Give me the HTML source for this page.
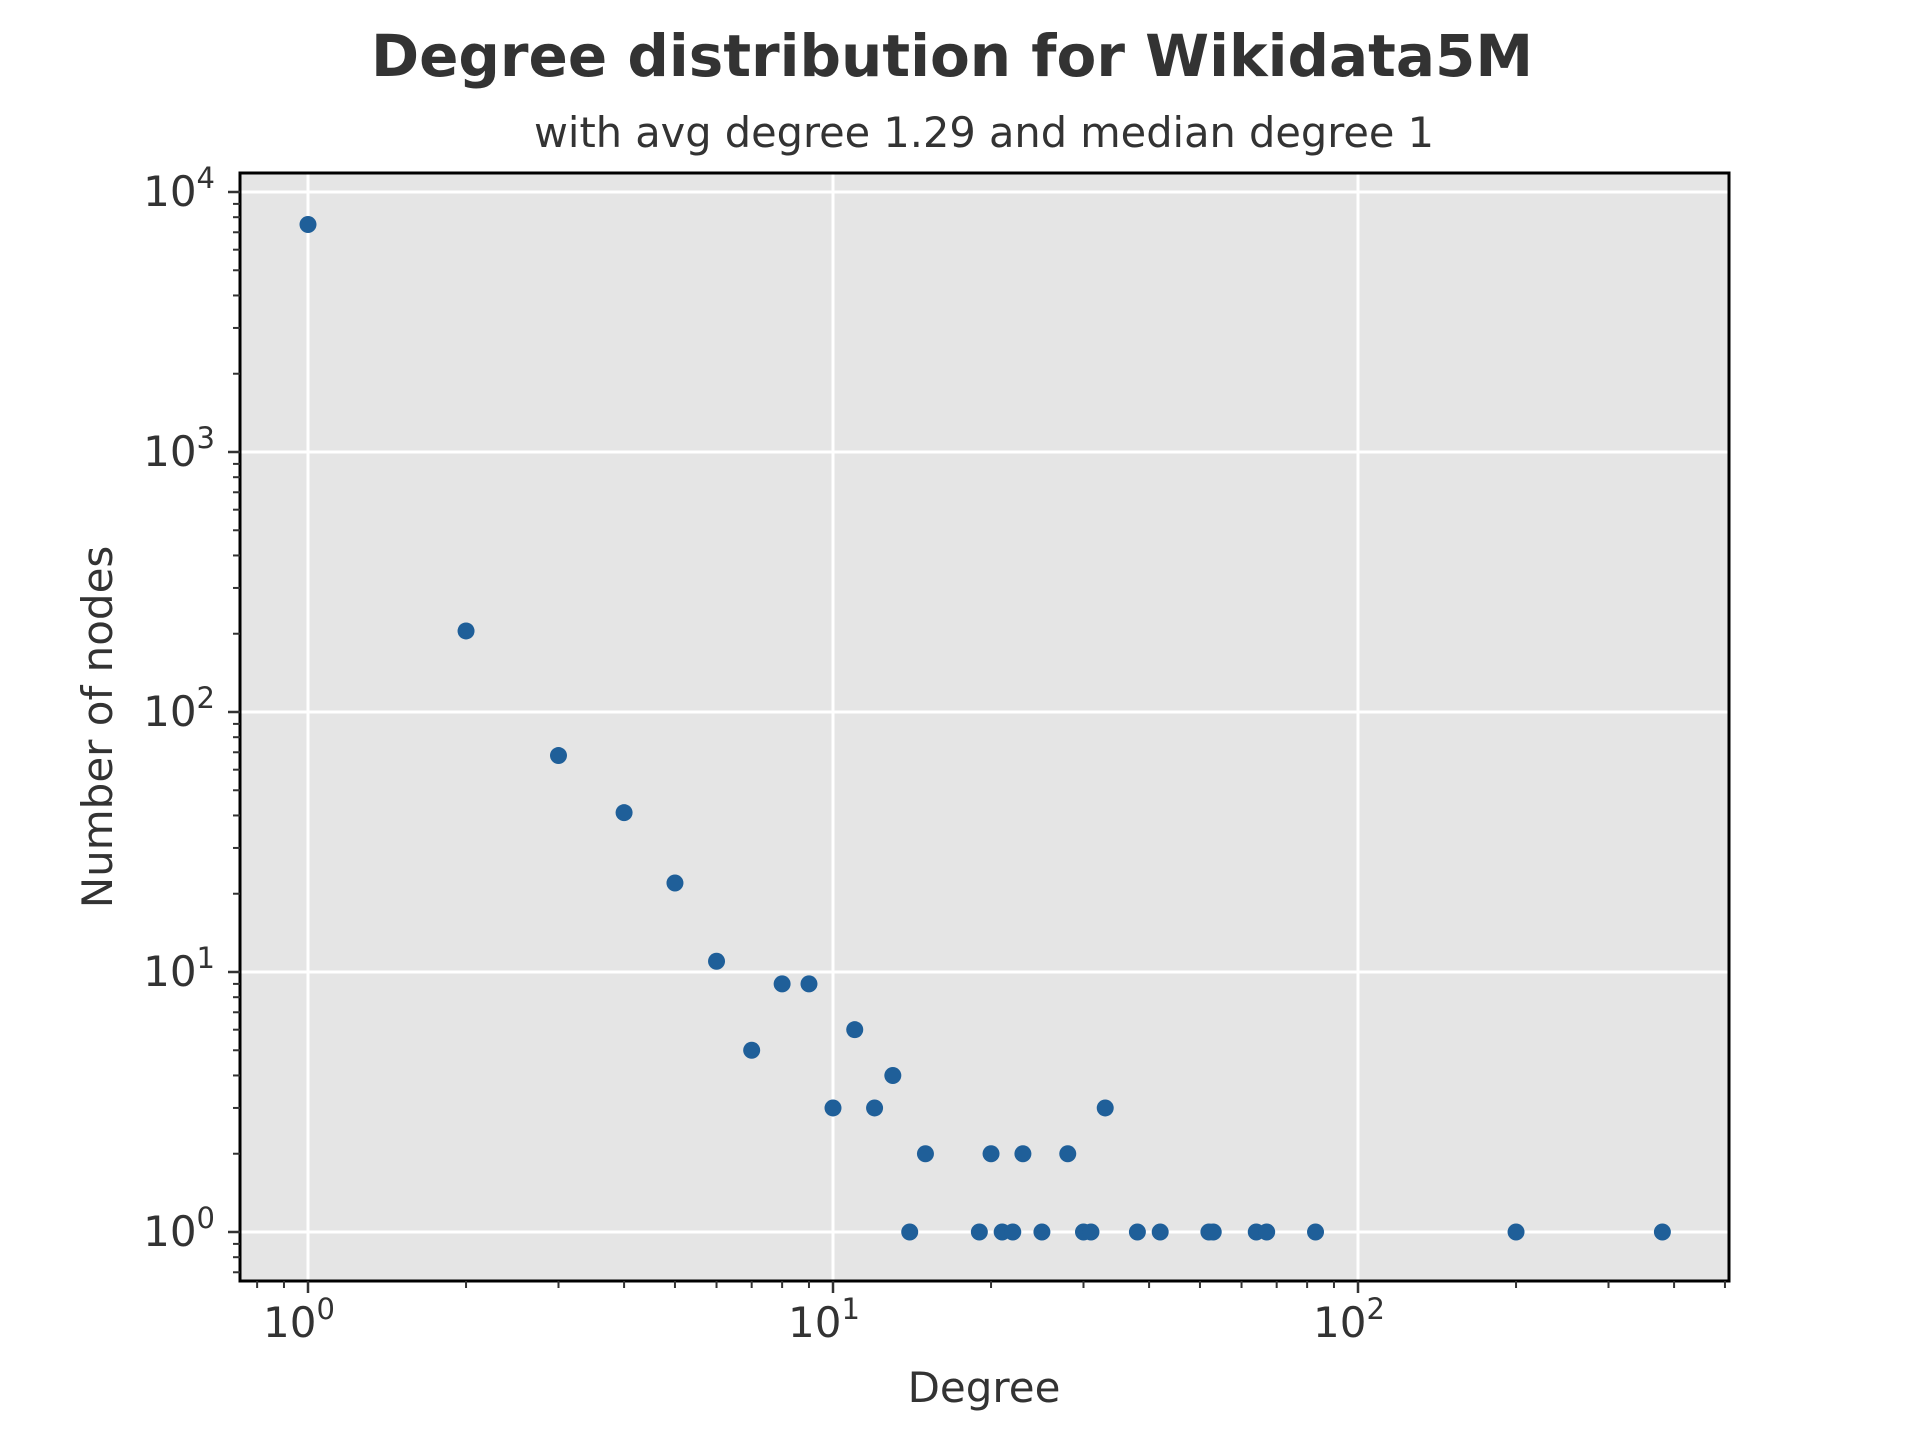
<!DOCTYPE html>
<html><head><meta charset="utf-8"><style>
html,body{margin:0;padding:0;background:#fff;}
svg{display:block;font-family:"DejaVu Sans","Liberation Sans",sans-serif;}
</style></head><body>
<svg id="chart" width="1920" height="1440" viewBox="0 0 1920 1440">
<text x="952" y="76" text-anchor="middle" font-size="58" font-weight="bold" fill="#333">Degree distribution for Wikidata5M</text>
<text x="984" y="147" text-anchor="middle" font-size="41.5" fill="#333">with avg degree 1.29 and median degree 1</text>
<rect x="240" y="173" width="1489" height="1108" fill="#e5e5e5"/>
<g id="grid"></g>
<g id="marks"></g>
<rect x="240" y="173" width="1489" height="1108" fill="none" stroke="#000" stroke-width="3"/>
<g id="axes"></g>
<text x="984" y="1402" text-anchor="middle" font-size="42" fill="#333">Degree</text>
<text x="0" y="0" transform="translate(112,727) rotate(-90)" text-anchor="middle" font-size="42" fill="#333">Number of nodes</text>
</svg>
<script>
const degrees = [1,2,3,4,5,6,7,8,9,10,11,12,13,14,15,19,20,21,22,23,25,28,30,31,33,38,42,52,53,64,67,83,200,380];
const counts = [7500,205,68,41,22,11,5,9,9,3,6,3,4,1,2,1,2,1,1,2,1,2,1,1,3,1,1,1,1,1,1,1,1,1];
const xTickExps = [0,1,2];
const yTickExps = [0,1,2,3,4];

const NS="http://www.w3.org/2000/svg";
const X0=308, XD=525, Y0=1232, YD=260, L=240, R=1729, T=173, B=1281;
const xs=v=>X0+Math.log10(v)*XD;
const ys=v=>Y0-Math.log10(v)*YD;
function mk(tag,attrs,parent){const e=document.createElementNS(NS,tag);for(const k in attrs)e.setAttribute(k,attrs[k]);document.getElementById(parent).appendChild(e);return e;}

xTickExps.forEach(p=>{
  const x=xs(Math.pow(10,p));
  const g=mk('line',{x1:x,x2:x,y1:T,y2:B,stroke:'#fff','stroke-width':3},'grid');
  
  
  const t=mk('line',{x1:x,x2:x,y1:B,y2:B+12,stroke:'#333','stroke-width':2.5},'axes');
  
  
  const lb=mk('text',{x:x-9,y:B+56,'text-anchor':'middle','font-size':42,fill:'#333'},'axes');
  lb.textContent='10';
  const sp=document.createElementNS(NS,'tspan');sp.setAttribute('dy','-18');sp.setAttribute('font-size','29');sp.textContent=String(p);lb.appendChild(sp);
  
  
});
for(let p=-1;p<=2;p++){for(let m=2;m<=9;m++){const v=m*Math.pow(10,p);const x=xs(v);if(x<L||x>R+1)continue;
  const t=mk('line',{x1:x,x2:x,y1:B,y2:B+7,stroke:'#333','stroke-width':2},'axes');
  
  }}
yTickExps.forEach(p=>{
  const y=ys(Math.pow(10,p));
  const g=mk('line',{x1:L,x2:R,y1:y,y2:y,stroke:'#fff','stroke-width':3},'grid');
  
  
  const t=mk('line',{x1:L-12,x2:L,y1:y,y2:y,stroke:'#333','stroke-width':2.5},'axes');
  
  
  const lb=mk('text',{x:L-25,y:y+14,'text-anchor':'end','font-size':42,fill:'#333'},'axes');
  lb.textContent='10';
  const sp=document.createElementNS(NS,'tspan');sp.setAttribute('dy','-18');sp.setAttribute('font-size','29');sp.textContent=String(p);lb.appendChild(sp);
  
  
});
for(let p=-1;p<=4;p++){for(let m=2;m<=9;m++){const v=m*Math.pow(10,p);const y=ys(v);if(y<T-1||y>B)continue;
  const t=mk('line',{x1:L-7,x2:L,y1:y,y2:y,stroke:'#333','stroke-width':2},'axes');
  
  }}
degrees.forEach((d,i)=>{
  const c=mk('circle',{cx:xs(d),cy:ys(counts[i]),r:8.5,fill:'#1f5f99'},'marks');
  
  
});
</script>
</body></html>
